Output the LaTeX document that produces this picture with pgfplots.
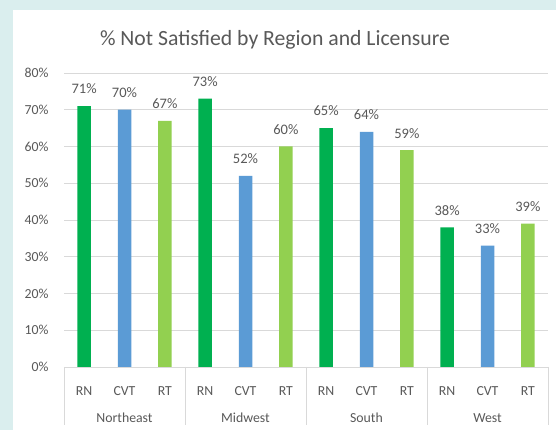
\documentclass[border=0pt]{standalone}
\usepackage{pgfplots}
\pgfplotsset{compat=1.18}
\usepackage{fontspec}
\setmainfont{Carlito}
\definecolor{bg}{RGB}{218,238,238}
\definecolor{rn}{RGB}{0,176,80}
\definecolor{cvt}{RGB}{91,155,213}
\definecolor{rt}{RGB}{146,208,80}
\definecolor{txt}{RGB}{89,89,89}
\definecolor{gridc}{RGB}{217,217,217}
\begin{document}
\begin{tikzpicture}[x=1pt,y=1pt]
\fill[bg] (0,0) rectangle (556,430);
\fill[white] (13,0) rectangle (556,420);
\node[text=txt, font=\fontsize{21.7}{25}\selectfont] at (275,390) {\% Not Satisfied by Region and Licensure};
\begin{axis}[
  at={(64pt,63pt)}, anchor=south west,
  scale only axis, width=484pt, height=294pt,
  xmin=-0.5, xmax=11.5, ymin=0, ymax=80,
  ytick={0,10,...,80},
  yticklabel={\pgfmathprintnumber{\tick}\%},
  /pgf/number format/assume math mode=true,
  xtick={0,...,11},
  xticklabels={RN,CVT,RT,RN,CVT,RT,RN,CVT,RT,RN,CVT,RT},
  major tick length=0pt,
  ymajorgrids, grid style={gridc, line width=0.8pt},
  axis line style={draw=none},
  tick label style={text=txt, font=\fontsize{13.8}{15}\selectfont},
  xticklabel style={yshift=-16pt},
  yticklabel style={xshift=-12pt},
  ybar, bar width=13.5pt, bar shift=0pt,
  nodes near coords={\pgfmathprintnumber{\pgfplotspointmeta}\%},
  nodes near coords style={text=txt, font=\fontsize{14.5}{16}\selectfont, /pgf/number format/assume math mode=true, yshift=8.5pt},
  clip=false,
]
\addplot[fill=rn, draw=none] coordinates {(0,71) (3,73) (6,65) (9,38)};
\addplot[fill=cvt, draw=none] coordinates {(1,70) (4,52) (7,64) (10,33)};
\addplot[fill=rt, draw=none] coordinates {(2,67) (5,60) (8,59) (11,39)};
\draw[gridc, line width=0.8pt] (axis cs:-0.5,0) -- (axis cs:11.5,0);
\draw[gridc, line width=0.8pt] (axis cs:-0.5,0) -- ([yshift=-58pt]axis cs:-0.5,0);
\draw[gridc, line width=0.8pt] (axis cs:2.5,0) -- ([yshift=-58pt]axis cs:2.5,0);
\draw[gridc, line width=0.8pt] (axis cs:5.5,0) -- ([yshift=-58pt]axis cs:5.5,0);
\draw[gridc, line width=0.8pt] (axis cs:8.5,0) -- ([yshift=-58pt]axis cs:8.5,0);
\draw[gridc, line width=0.8pt] (axis cs:11.5,0) -- ([yshift=-58pt]axis cs:11.5,0);
\node[text=txt, font=\fontsize{13.8}{15}\selectfont] at ([yshift=-51pt]axis cs:1,0) {Northeast};
\node[text=txt, font=\fontsize{13.8}{15}\selectfont] at ([yshift=-51pt]axis cs:4,0) {Midwest};
\node[text=txt, font=\fontsize{13.8}{15}\selectfont] at ([yshift=-51pt]axis cs:7,0) {South};
\node[text=txt, font=\fontsize{13.8}{15}\selectfont] at ([yshift=-51pt]axis cs:10,0) {West};
\end{axis}
\pgfresetboundingbox
\useasboundingbox (0,0) rectangle (556,430);
\end{tikzpicture}
\end{document}
